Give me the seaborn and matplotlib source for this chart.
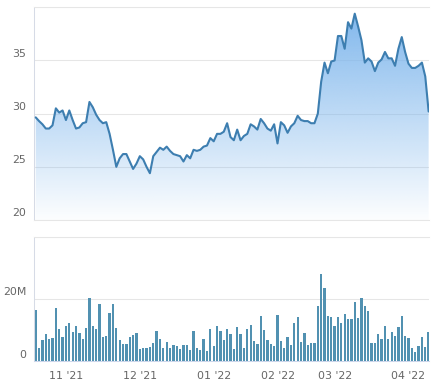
import numpy as np
import pandas as pd
import matplotlib
matplotlib.use("Agg")
import matplotlib.pyplot as plt
import seaborn as sns
from matplotlib.patches import PathPatch
from matplotlib.colors import to_rgb

# ---------------- data ----------------
price = [29.65, 29.3, 29.0, 28.6, 28.6, 28.9, 30.5, 30.1, 30.3, 29.4,
         30.3, 29.4, 28.6, 28.7, 29.1, 29.2, 31.1, 30.6, 29.9, 29.4,
         29.1, 29.2, 28.1, 26.6, 25.0, 25.8, 26.2, 26.2, 25.5, 24.8,
         25.3, 26.0, 25.7, 25.0, 24.4, 26.0, 26.4, 26.8, 26.6, 26.9,
         26.5, 26.2, 26.1, 26.0, 25.5, 26.1, 25.8, 26.6, 26.5, 26.6,
         26.9, 27.0, 27.7, 27.4, 28.1, 28.1, 28.3, 29.1, 27.8, 27.5,
         28.5, 27.5, 27.9, 28.1, 29.0, 28.8, 28.5, 29.5, 29.1, 28.6,
         28.4, 29.0, 27.2, 29.2, 28.9, 28.2, 28.8, 29.1, 29.8, 29.4,
         29.3, 29.3, 29.1, 29.1, 30.0, 33.0, 34.8, 33.8, 34.9, 35.0,
         37.3, 37.3, 36.1, 38.6, 38.0, 39.4, 38.2, 36.9, 34.8, 35.2,
         34.9, 34.0, 34.8, 35.1, 35.8, 35.2, 35.2, 34.5, 36.1, 37.2,
         35.8, 34.7, 34.3, 34.3, 34.5, 34.8, 33.5, 30.2]

volume_m = [16.5, 4.2, 6.8, 8.8, 7.1, 7.5, 17.2, 10.4, 7.8, 11.4,
            12.3, 9.4, 11.4, 9.1, 7.1, 10.7, 20.4, 11.4, 10.4, 18.2,
            7.8, 8.1, 15.6, 18.2, 10.7, 6.8, 5.5, 5.5, 7.8, 8.4,
            9.1, 3.9, 4.2, 4.2, 4.5, 5.8, 9.7, 7.1, 4.2, 6.2,
            4.2, 5.2, 4.9, 3.9, 5.2, 5.2, 3.6, 9.7, 4.2, 3.6,
            7.1, 3.2, 10.4, 4.9, 11.4, 9.7, 6.8, 10.4, 8.8, 3.9,
            11.0, 8.8, 4.2, 10.4, 11.7, 6.5, 5.5, 14.6, 10.1, 6.8,
            5.5, 4.9, 14.9, 6.5, 4.2, 7.8, 5.2, 12.3, 14.3, 6.2,
            9.1, 5.2, 5.8, 5.8, 17.8, 27.9, 23.4, 14.6, 14.3, 11.4,
            14.3, 12.3, 15.2, 13.6, 13.6, 19.1, 13.9, 20.4, 17.8, 16.2,
            5.8, 5.8, 8.8, 7.1, 11.4, 7.1, 9.4, 8.1, 11.0, 14.6,
            8.1, 7.5, 4.2, 2.9, 4.9, 7.8, 4.5, 9.4]

month_labels = ["11 '21", "12 '21", "01 '22", "02 '22", "03 '22", "04 '22"]
month_start_idx = [9, 31, 53, 72, 89, 111]
price_ticks = [20, 25, 30, 35]
price_tick_labels = ["20", "25", "30", "35"]
volume_ticks_m = [0, 20]
volume_tick_labels = ["0", "20M"]

# ---------------- styling ----------------
sns.set_style("white")
plt.rcParams["font.family"] = ["DejaVu Sans"]
W, H = 444, 388
LABEL_C = "#666666"
GRID_C = "#e6e6e6"
AXIS_C = "#ccd6eb"
LEFT_C = "#d6dbe6"
LINE_C = "#3d7eb0"
FILL_C = "#7cb5ec"
BAR_C = "#5191b1"
FS = 7.9

df = pd.DataFrame({"idx": np.arange(len(price)),
                   "price": price,
                   "volume": np.array(volume_m) * 1e6})

fig = plt.figure(figsize=(W / 100, H / 100), dpi=100)
x0, x1 = 33.7, 429.3
ax1 = fig.add_axes([x0 / W, 1 - 220 / H, (x1 - x0) / W, (220 - 7.3) / H])
ax2 = fig.add_axes([x0 / W, 1 - 361 / H, (x1 - x0) / W, (361 - 236.7) / H])

xlim = (-0.6, len(price) - 1 + 0.2)

# ---------------- price panel ----------------
poly = ax1.fill_between(df["idx"], df["price"], 20, color="none", lw=0)
path = poly.get_paths()[0]
patch = PathPatch(path, transform=ax1.transData, facecolor="none", edgecolor="none")
ax1.add_patch(patch)
r, g, b = to_rgb(FILL_C)
alpha = np.linspace(0.98, 0.02, 256)
img = np.zeros((256, 2, 4))
img[..., 0] = r
img[..., 1] = g
img[..., 2] = b
img[..., 3] = alpha[:, None]
im = ax1.imshow(img, extent=[xlim[0], xlim[1], 20, 40], aspect="auto",
                origin="upper", zorder=1, interpolation="bilinear")
im.set_clip_path(patch)

sns.lineplot(data=df, x="idx", y="price", ax=ax1, color=LINE_C,
             linewidth=1.5, zorder=3)

ax1.set_xlim(*xlim)
ax1.set_ylim(20, 40)
ax1.set_yticks([20, 25, 30, 35, 40])
ax1.set_yticklabels([])
ax1.set_xticks([])
ax1.grid(axis="y", color=GRID_C, linewidth=0.75, zorder=0)
ax1.set_axisbelow(True)
ax1.tick_params(length=0)
ax1.set_xlabel("")
ax1.set_ylabel("")
for s in ["top", "bottom"]:
    ax1.spines[s].set_color(GRID_C)
    ax1.spines[s].set_linewidth(0.75)
ax1.spines["right"].set_visible(False)
ax1.spines["left"].set_color(LEFT_C)
ax1.spines["left"].set_linewidth(0.75)
for v, lab in zip(price_ticks, price_tick_labels):
    ax1.annotate(lab, xy=(0, v), xycoords=("axes fraction", "data"),
                 xytext=(-7.5, 6.5), textcoords="offset pixels",
                 ha="right", va="center", fontsize=FS, color=LABEL_C)

# ---------------- volume panel ----------------
sns.barplot(data=df, x="idx", y="volume", ax=ax2, native_scale=True,
            width=0.68, color=BAR_C, saturation=1, errorbar=None,
            linewidth=0, edgecolor="none")
ax2.set_xlim(*xlim)
ax2.set_ylim(0, 40e6)
ax2.set_yticks([0, 20e6, 40e6])
ax2.set_yticklabels([])
ax2.grid(axis="y", color=GRID_C, linewidth=0.75, zorder=0)
ax2.set_axisbelow(True)
ax2.tick_params(axis="y", length=0)
ax2.set_xticks(month_start_idx)
ax2.set_xticklabels(month_labels, fontsize=FS, color=LABEL_C)
ax2.tick_params(axis="x", direction="out", length=6, width=0.75,
                color=AXIS_C, pad=1.5)
ax2.set_xlabel("")
ax2.set_ylabel("")
ax2.spines["top"].set_color(GRID_C)
ax2.spines["top"].set_linewidth(0.75)
ax2.spines["right"].set_visible(False)
ax2.spines["bottom"].set_color(AXIS_C)
ax2.spines["bottom"].set_linewidth(0.75)
ax2.spines["left"].set_color(LEFT_C)
ax2.spines["left"].set_linewidth(0.75)
for v, lab in zip(volume_ticks_m, volume_tick_labels):
    ax2.annotate(lab, xy=(0, v * 1e6), xycoords=("axes fraction", "data"),
                 xytext=(-7.5, 6.5), textcoords="offset pixels",
                 ha="right", va="center", fontsize=FS, color=LABEL_C)

fig.savefig("out.png", dpi=100)
